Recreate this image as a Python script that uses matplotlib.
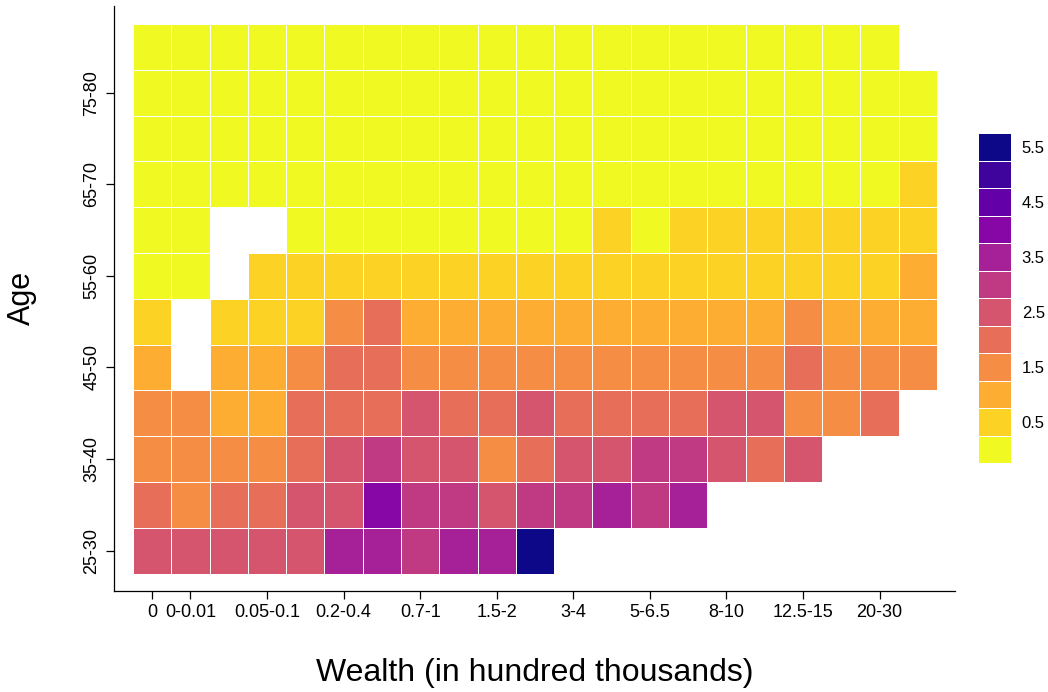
import numpy as np
import matplotlib
matplotlib.use("Agg")
import matplotlib.pyplot as plt
from matplotlib.colors import ListedColormap, BoundaryNorm

plt.rcParams["font.family"] = ["Liberation Sans", "DejaVu Sans"]

# wealth bins (hundred thousands) and age bands
wealth = ["0", "0-0.01", "0.01-0.05", "0.05-0.1", "0.1-0.2", "0.2-0.4", "0.4-0.7",
          "0.7-1", "1-1.5", "1.5-2", "2-3", "3-4", "4-5", "5-6.5", "6.5-8",
          "8-10", "10-12.5", "12.5-15", "15-20", "20-30", "30+"]
ages = ["25-30", "30-35", "35-40", "40-45", "45-50", "50-55",
        "55-60", "60-65", "65-70", "70-75", "75-80", "80+"]
wealth_labeled = ["0", "0-0.01", "0.05-0.1", "0.2-0.4", "0.7-1", "1.5-2",
                  "3-4", "5-6.5", "8-10", "12.5-15", "20-30"]
age_labeled = ["25-30", "35-40", "45-50", "55-60", "65-70", "75-80"]

N = None
age_25_30 = [2.5, 2.5, 2.5, 2.5, 2.5, 3.5, 3.5, 3.0, 3.5, 3.5, 5.5, N, N, N, N, N, N, N, N, N, N]
age_30_35 = [2.0, 1.5, 2.0, 2.0, 2.5, 2.5, 4.0, 3.0, 3.0, 2.5, 3.0, 3.0, 3.5, 3.0, 3.5, N, N, N, N, N, N]
age_35_40 = [1.5, 1.5, 1.5, 1.5, 2.0, 2.5, 3.0, 2.5, 2.5, 1.5, 2.0, 2.5, 2.5, 3.0, 3.0, 2.5, 2.0, 2.5, N, N, N]
age_40_45 = [1.5, 1.5, 1.0, 1.0, 2.0, 2.0, 2.0, 2.5, 2.0, 2.0, 2.5, 2.0, 2.0, 2.0, 2.0, 2.5, 2.5, 1.5, 1.5, 2.0, N]
age_45_50 = [1.0, N, 1.0, 1.0, 1.5, 2.0, 2.0, 1.5, 1.5, 1.5, 1.5, 1.5, 1.5, 1.5, 1.5, 1.5, 1.5, 2.0, 1.5, 1.5, 1.5]
age_50_55 = [0.5, N, 0.5, 0.5, 0.5, 1.5, 2.0, 1.0, 1.0, 1.0, 1.0, 1.0, 1.0, 1.0, 1.0, 1.0, 1.0, 1.5, 1.0, 1.0, 1.0]
age_55_60 = [0, 0, N, 0.5, 0.5, 0.5, 0.5, 0.5, 0.5, 0.5, 0.5, 0.5, 0.5, 0.5, 0.5, 0.5, 0.5, 0.5, 0.5, 0.5, 1.0]
age_60_65 = [0, 0, N, N, 0, 0, 0, 0, 0, 0, 0, 0, 0.5, 0, 0.5, 0.5, 0.5, 0.5, 0.5, 0.5, 0.5]
age_65_70 = [0, 0, 0, 0, 0, 0, 0, 0, 0, 0, 0, 0, 0, 0, 0, 0, 0, 0, 0, 0, 0.5]
age_70_75 = [0] * 21
age_75_80 = [0] * 21
age_80_up = [0] * 20 + [N]

legend_levels = [0, 0.5, 1, 1.5, 2, 2.5, 3, 3.5, 4, 4.5, 5, 5.5]
legend_labels = ["0.5", "1.5", "2.5", "3.5", "4.5", "5.5"]

rows = [age_25_30, age_30_35, age_35_40, age_40_45, age_45_50, age_50_55,
        age_55_60, age_60_65, age_65_70, age_70_75, age_75_80, age_80_up]
Z = np.array([[np.nan if v is None else v for v in r] for r in rows], dtype=float)
Z = np.ma.masked_invalid(Z)

colors = plt.cm.plasma(np.linspace(0, 1, len(legend_levels)))[::-1]
cmap = ListedColormap(colors)
bounds = np.arange(-0.25, 6.0, 0.5)
norm = BoundaryNorm(bounds, cmap.N)

fig = plt.figure(figsize=(10.48, 6.92), dpi=100)
ax = fig.add_axes([113.5 / 1048, 1 - 591 / 692, 841.5 / 1048, 585 / 692])

xe = np.arange(len(wealth) + 1) - 0.5
ye = np.arange(len(ages) + 1) - 0.5
ax.pcolormesh(xe, ye, Z, cmap=cmap, norm=norm, edgecolors="white", linewidth=0.6)

ax.set_xlim(-1.009, len(wealth) - 0.5 + 0.47)
ax.set_ylim(-0.88, len(ages) - 0.5 + 0.393)

ax.set_xticks([wealth.index(w) for w in wealth_labeled])
ax.set_xticklabels(wealth_labeled)
ax.set_yticks([ages.index(a) for a in age_labeled])
ax.set_yticklabels(age_labeled, rotation=90, va="center")

for s in ["top", "right"]:
    ax.spines[s].set_visible(False)
for s in ["left", "bottom"]:
    ax.spines[s].set_linewidth(0.9)
ax.tick_params(axis="both", labelsize=13, length=5.5, width=0.9, pad=4, colors="black")

ax.set_xlabel("Wealth (in hundred thousands)", fontsize=23)
ax.xaxis.set_label_coords(0.501, -0.1402)
ax.xaxis.label.set_va("center")
ax.set_ylabel("Age", fontsize=22)
ax.yaxis.set_label_coords(-0.1087, 0.501)
ax.yaxis.label.set_va("center")

# discrete legend keys
lax = fig.add_axes([977.7 / 1048, 1 - 463 / 692, 33 / 1048, 330 / 692])
key = np.array(legend_levels).reshape(-1, 1)
lax.pcolormesh(np.array([0, 1]), np.arange(len(legend_levels) + 1), key,
               cmap=cmap, norm=norm, edgecolors="white", linewidth=0.6)
lax.set_xlim(0, 1)
lax.set_ylim(0, len(legend_levels))
lax.set_xticks([])
lax.set_yticks([legend_levels.index(float(l)) + 0.5 for l in legend_labels])
lax.set_yticklabels(legend_labels)
lax.yaxis.tick_right()
lax.tick_params(axis="y", length=0, pad=8, labelsize=12)
for s in lax.spines.values():
    s.set_visible(False)

fig.savefig("out.png", dpi=100)
